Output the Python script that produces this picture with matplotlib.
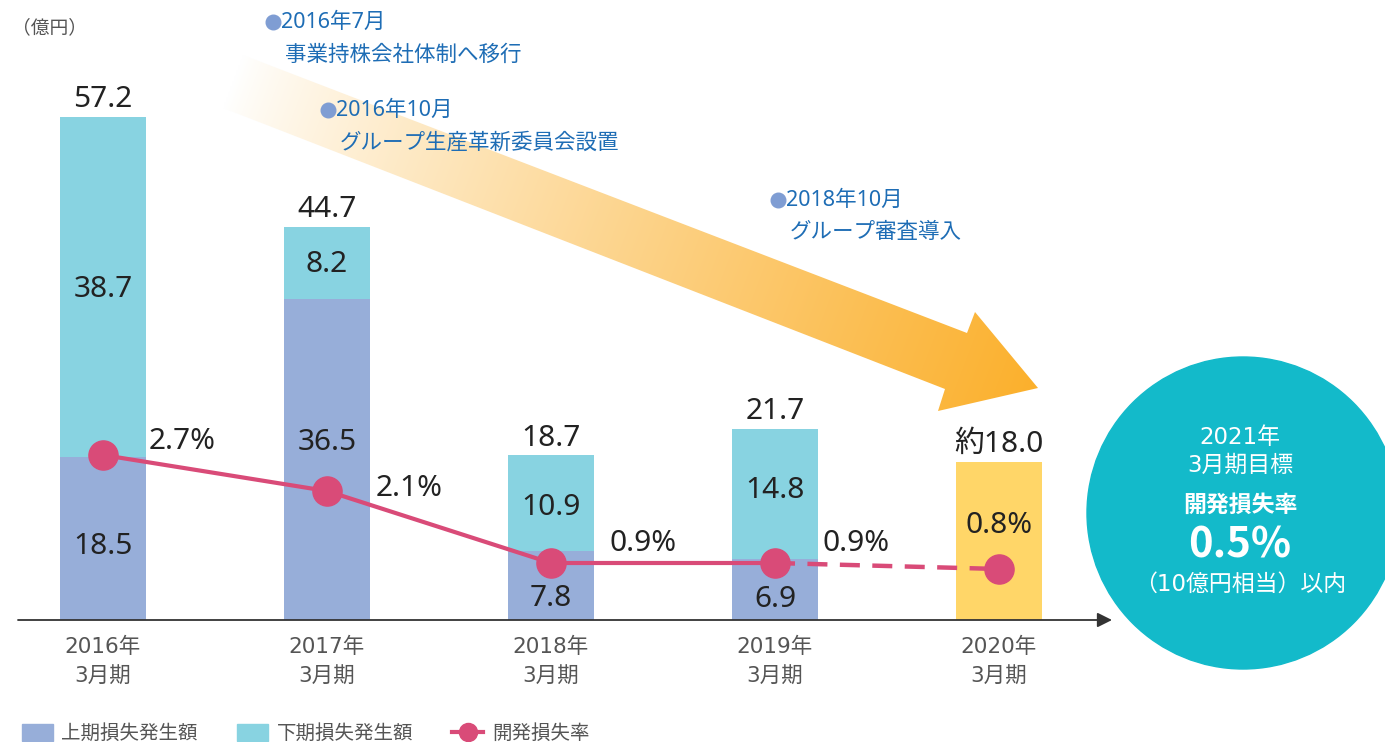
import numpy as np
import matplotlib
matplotlib.use('Agg')
import matplotlib.pyplot as plt
from matplotlib.patches import Polygon, Circle, Patch
from matplotlib.lines import Line2D

plt.rcParams['font.family'] = ['Noto Sans', 'Noto Sans CJK JP', 'DejaVu Sans']
ROUND = ['DejaVu Sans', 'Noto Sans CJK JP']   # wider digits for axis / circle text

# ---- data ----
periods = ['2016年\n3月期', '2017年\n3月期', '2018年\n3月期', '2019年\n3月期', '2020年\n3月期']
first_half = [18.5, 36.5, 7.8, 6.9]      # 上期損失発生額 (億円)
second_half = [38.7, 8.2, 10.9, 14.8]    # 下期損失発生額 (億円)
forecast_total = 18.0                    # 2020年3月期 見込み
loss_rate = [2.7, 2.1, 0.9, 0.9]         # 開発損失率 (%)
forecast_rate = 0.8
target_rate = 0.5

milestones = [
    ('2016年7月', '事業持株会社体制へ移行'),
    ('2016年10月', 'グループ生産革新委員会設置'),
    ('2018年10月', 'グループ審査導入'),
]

# ---- style ----
C_FIRST = '#97AED9'
C_SECOND = '#88D3E1'
C_FORECAST = '#FFD668'
C_RATE = '#D94B78'
C_TARGET = '#13BACA'
C_NOTE = '#1E6DB5'
C_BULLET = '#7F9DD3'
C_TEXT = '#222222'
C_GRAY = '#555555'

W, H = 1385, 742
fig = plt.figure(figsize=(W / 100, H / 100), dpi=100)

# overlay in pixel coordinates for the decorative arrow, circle and notes
ov = fig.add_axes([0, 0, 1, 1], zorder=0)
ov.set_xlim(0, W)
ov.set_ylim(H, 0)
ov.axis('off')

ax = fig.add_axes([18 / W, (H - 620) / H, (1112 - 18) / W, 600 / H], zorder=1)
ax.patch.set_alpha(0)
px_per_unit = 8.8
ax.set_xlim((18 - 103) / 224, (1112 - 103) / 224)
ax.set_ylim(0, 600 / px_per_unit)

x = np.arange(len(periods))
xa = x[:len(first_half)]
bw = 0.388

ax.bar(xa, first_half, bw, color=C_FIRST, zorder=2)
ax.bar(xa, second_half, bw, bottom=first_half, color=C_SECOND, zorder=2)
ax.bar(x[-1], forecast_total, bw, color=C_FORECAST, zorder=2)

val_fs = 21.5
totals = [a + b for a, b in zip(first_half, second_half)]
for xi, t in zip(xa, totals):
    ax.annotate(f'{t:.1f}', (xi, t), xytext=(0, 7), textcoords='offset points',
                ha='center', va='baseline', fontsize=val_fs, color=C_TEXT)
ax.annotate(f'約{forecast_total:.1f}', (x[-1], forecast_total), xytext=(0, 7),
            textcoords='offset points', ha='center', va='baseline',
            fontsize=val_fs, color=C_TEXT)

# inner labels (some nudged away from the rate line)
lower_y = [8.4, 20.2, 2.5, 2.3]
upper_y = [37.6, 40.4, 12.8, 14.7]
for xi, v, yy in zip(xa, first_half, lower_y):
    ax.text(xi, yy, f'{v:.1f}', ha='center', va='center', fontsize=val_fs,
            color=C_TEXT, zorder=4)
for xi, v, yy in zip(xa, second_half, upper_y):
    ax.text(xi, yy, f'{v:.1f}', ha='center', va='center', fontsize=val_fs,
            color=C_TEXT, zorder=4)

ax.set_xticks(x)
ax.set_xticklabels(periods, fontsize=15.5, color=C_GRAY, linespacing=1.6,
                   family=ROUND)
ax.tick_params(axis='x', length=0, pad=12)
ax.set_yticks([])
for s in ['top', 'right', 'left', 'bottom']:
    ax.spines[s].set_visible(False)
ax.annotate('', xy=(1, 0), xytext=(0, 0), xycoords='axes fraction',
            arrowprops=dict(arrowstyle='-|>', color='#333333', lw=1.3,
                            mutation_scale=22, shrinkA=0, shrinkB=0), zorder=3)

# rate line on its own scale
ax2 = ax.twinx()
ax2.set_ylim(-0.05, -0.05 + 600 / 60)
ax2.axis('off')
ax2.plot(xa, loss_rate, color=C_RATE, lw=3, marker='o', ms=21, zorder=5)
ax2.plot([xa[-1], x[-1]], [loss_rate[-1], forecast_rate], color=C_RATE, lw=3.2,
         ls=(0, (4.5, 2.8)), zorder=5)
ax2.plot(x[-1], forecast_rate, 'o', color=C_RATE, ms=21, zorder=5)
rate_offsets = [(33, 10), (35, 2), (42, 14), (34, 14)]
for xi, r, off in zip(xa, loss_rate, rate_offsets):
    ax2.annotate(f'{r}%', (xi, r), xytext=off, textcoords='offset points',
                 ha='left', va='center', fontsize=val_fs, color=C_TEXT)
ax2.annotate(f'{forecast_rate}%', (x[-1], forecast_rate), xytext=(0, 31),
             textcoords='offset points', ha='center', va='center',
             fontsize=val_fs, color=C_TEXT)

# gradient arrow
arrow_pts = np.array([(243, 55), (967, 333), (975, 312), (1038, 388),
                      (938, 411), (945, 389), (223, 108)])
poly = Polygon(arrow_pts, closed=True, facecolor='none', edgecolor='none')
ov.add_patch(poly)
x0, x1 = arrow_pts[:, 0].min(), arrow_pts[:, 0].max()
y0, y1 = arrow_pts[:, 1].min(), arrow_pts[:, 1].max()
gx, gy = np.meshgrid(np.linspace(x0, x1, 400), np.linspace(y0, y1, 200))
d = np.array([1038 - 233, 388 - 81], dtype=float)
t = ((gx - 233) * d[0] + (gy - 81) * d[1]) / (d @ d)
t = np.clip(t, 0, 1) ** 0.85
orange = np.array([251, 176, 44]) / 255
rgb = 1 - t[..., None] * (1 - orange)
img = ov.imshow(rgb, extent=(x0, x1, y1, y0), origin='upper', aspect='auto',
                interpolation='bilinear', zorder=1)
img.set_clip_path(poly)

# milestone notes
note_fs = 15.5
note_xy = [(285, 22), (340, 110), (790, 200)]
for (when, what), (nx, ny) in zip(milestones, note_xy):
    ov.plot(nx - 12, ny, 'o', ms=10.5, color=C_BULLET, zorder=3)
    ov.text(nx - 4, ny, when, fontsize=note_fs, color=C_NOTE, va='center', zorder=3)
    ov.text(nx, ny + 33, what, fontsize=note_fs, color=C_NOTE, va='center', zorder=3)

ov.text(12, 28, '（億円）', fontsize=13.5, color=C_GRAY, va='center', ha='left')

# target circle
cx, cy = 1243, 513
ov.add_patch(Circle((cx, cy), 156, color=C_TARGET, zorder=2))
tx = 1240
circ_fs = 16.5
ov.text(tx, 438, '2021年', color='white', fontsize=circ_fs, ha='center',
        va='center', zorder=3, family=ROUND)
ov.text(tx, 465, '3月期目標', color='white', fontsize=circ_fs, ha='center',
        va='center', zorder=3, family=ROUND)
ov.text(tx, 505, '開発損失率', color='white', fontsize=16.5, fontweight='bold',
        ha='center', va='center', zorder=3, family=['Noto Sans CJK JP'])
ov.text(tx, 545, f'{target_rate}%', color='white', fontsize=30, fontweight='bold',
        ha='center', va='center', zorder=3, family=['Noto Sans CJK JP'])
ov.text(tx, 584, '（10億円相当）以内', color='white', fontsize=circ_fs, ha='center',
        va='center', zorder=3, family=ROUND)

# legend
handles = [Patch(color=C_FIRST), Patch(color=C_SECOND),
           Line2D([], [], color=C_RATE, lw=3, marker='o', ms=13)]
labels = ['上期損失発生額', '下期損失発生額', '開発損失率']
fig.legend(handles, labels, loc='center left', bbox_to_anchor=(4 / W, (H - 734) / H),
           ncol=3, frameon=False, fontsize=14, handlelength=1.6, handleheight=1.0,
           handletextpad=0.45, columnspacing=2.0, labelcolor=C_GRAY)

fig.savefig('out.png', dpi=100)
